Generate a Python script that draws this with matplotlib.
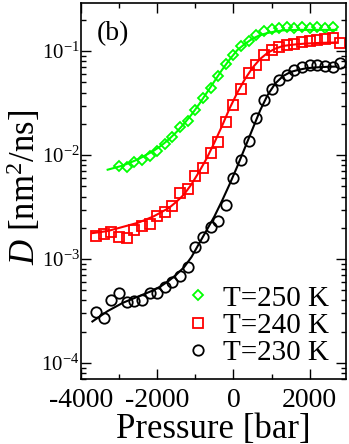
import numpy as np
import matplotlib
matplotlib.use('Agg')
import matplotlib.pyplot as plt
from matplotlib.ticker import LogLocator, MultipleLocator, NullFormatter

plt.rcParams['font.family'] = ['Liberation Serif', 'DejaVu Serif']
plt.rcParams['mathtext.fontset'] = 'custom'
plt.rcParams['mathtext.rm'] = 'Liberation Serif'
plt.rcParams['mathtext.it'] = 'Liberation Serif:italic'
plt.rcParams['axes.unicode_minus'] = False

# T = 250 K (green diamonds), values are log10(D)
p_250 = [-3000, -2800, -2600, -2400, -2200, -2000, -1800, -1600, -1400, -1200,
         -1000, -800, -600, -400, -200, 0, 200, 400, 600, 800,
         1000, 1200, 1400, 1600, 1800, 2000, 2200, 2400, 2600]
logd_250 = [-2.10, -2.11, -2.07, -2.05, -2.01, -1.96, -1.89, -1.83, -1.73, -1.67,
            -1.57, -1.45, -1.35, -1.24, -1.12, -1.04, -0.95, -0.90, -0.84, -0.81,
            -0.79, -0.78, -0.77, -0.78, -0.77, -0.775, -0.77, -0.775, -0.77]
pfit_250 = [-3300, -3100, -2900, -2700, -2500, -2300, -2100, -1900, -1700, -1500,
            -1300, -1100, -900, -700, -500, -300, -100, 100, 300, 500,
            700, 900, 1100, 1300, 1500, 1700, 1900, 2100, 2300, 2500, 2700]
logfit_250 = [-2.14, -2.12, -2.10, -2.07, -2.04, -2.00, -1.96, -1.91, -1.85, -1.78,
              -1.70, -1.61, -1.51, -1.40, -1.29, -1.18, -1.08, -0.99, -0.93, -0.88,
              -0.845, -0.825, -0.81, -0.80, -0.797, -0.795, -0.795, -0.795, -0.795, -0.795, -0.795]

# T = 240 K (red squares)
p_240 = [-3600, -3400, -3200, -3000, -2800, -2600, -2400, -2200, -2000, -1800,
         -1600, -1400, -1200, -1000, -800, -600, -400, -200, 0, 200,
         400, 600, 800, 1000, 1200, 1400, 1600, 1800, 2000, 2200,
         2400, 2600, 2800]
logd_240 = [-2.78, -2.76, -2.74, -2.79, -2.80, -2.72, -2.68, -2.66, -2.59, -2.55,
            -2.49, -2.36, -2.33, -2.20, -2.12, -1.98, -1.87, -1.68, -1.52, -1.36,
            -1.21, -1.13, -1.04, -0.99, -0.96, -0.94, -0.93, -0.91, -0.90, -0.89,
            -0.885, -0.875, -0.92]
pfit = [-3700, -3500, -3300, -3100, -2900, -2700, -2500, -2300, -2100, -1900,
        -1700, -1500, -1300, -1100, -900, -700, -500, -300, -100, 100,
        300, 500, 700, 900, 1100, 1300, 1500, 1700, 1900, 2100,
        2300, 2500, 2700]
logfit_240 = [-2.75, -2.74, -2.73, -2.71, -2.69, -2.67, -2.65, -2.62, -2.59, -2.55,
              -2.51, -2.45, -2.38, -2.28, -2.16, -2.03, -1.88, -1.72, -1.55, -1.40,
              -1.27, -1.16, -1.075, -1.015, -0.975, -0.95, -0.94, -0.932, -0.927, -0.923,
              -0.92, -0.918, -0.916]

# T = 230 K (black circles)
p_230 = p_240
logd_230 = [-3.51, -3.57, -3.39, -3.33, -3.41, -3.40, -3.39, -3.33, -3.33, -3.27,
            -3.22, -3.16, -3.08, -2.88, -2.79, -2.69, -2.63, -2.48, -2.22, -2.05,
            -1.86, -1.64, -1.47, -1.36, -1.28, -1.23, -1.18, -1.15, -1.13, -1.135,
            -1.14, -1.15, -1.11]
logfit_230 = [-3.60, -3.55, -3.50, -3.46, -3.42, -3.39, -3.36, -3.33, -3.30, -3.26,
              -3.21, -3.15, -3.08, -2.98, -2.85, -2.72, -2.59, -2.44, -2.28, -2.11,
              -1.93, -1.75, -1.57, -1.42, -1.31, -1.24, -1.20, -1.18, -1.165, -1.158,
              -1.153, -1.15, -1.148]

green = '#00ff00'

fig = plt.figure(figsize=(3.49, 4.44), dpi=100)
ax = fig.add_axes([0.232, 0.146, 0.759, 0.847])

ax.plot(pfit_250, 10 ** np.array(logfit_250), color=green, lw=1.5)
ax.plot(pfit, 10 ** np.array(logfit_240), color='red', lw=1.5)
ax.plot(pfit, 10 ** np.array(logfit_230), color='black', lw=1.5)

ax.plot(p_250, 10 ** np.array(logd_250), 'D', ms=5.5, mfc='none', mec=green, mew=1.3,
        label='T=250 K')
ax.plot(p_240, 10 ** np.array(logd_240), 's', ms=6.5, mfc='none', mec='red', mew=1.3,
        label='T=240 K')
ax.plot(p_230, 10 ** np.array(logd_230), 'o', ms=7.5, mfc='none', mec='black', mew=1.3,
        label='T=230 K')

ax.set_yscale('log')
ax.set_xlim(-4000, 2950)
ax.set_ylim(7e-5, 0.29)
ax.xaxis.set_major_locator(MultipleLocator(2000))
ax.xaxis.set_minor_locator(MultipleLocator(1000))
ax.yaxis.set_major_locator(LogLocator(base=10, numticks=10))
ax.yaxis.set_minor_locator(LogLocator(base=10, subs=np.arange(2, 10), numticks=20))
ax.yaxis.set_minor_formatter(NullFormatter())

ax.tick_params(which='both', direction='in', top=True, right=True, width=1)
ax.tick_params(which='major', length=7)
ax.tick_params(which='minor', length=3.5)
ax.tick_params(axis='x', labelsize=20, pad=6)
ax.tick_params(axis='y', labelsize=15, pad=1)
for s in ax.spines.values():
    s.set_linewidth(1.2)

ax.set_xlabel('Pressure [bar]', fontsize=25, labelpad=0)
ax.set_ylabel(r'$\mathit{D}$ [nm$^2$/ns]', fontsize=25)
ax.yaxis.set_label_coords(-0.145, 0.51)

ax.text(0.06, 0.92, '(b)', transform=ax.transAxes, fontsize=20, va='center')

ax.legend(loc='lower left', bbox_to_anchor=(0.32, -0.02), frameon=False, fontsize=21,
          handlelength=0.8, handletextpad=0.45, labelspacing=0.03, borderpad=0.2)

fig.savefig('out.png', dpi=100)
